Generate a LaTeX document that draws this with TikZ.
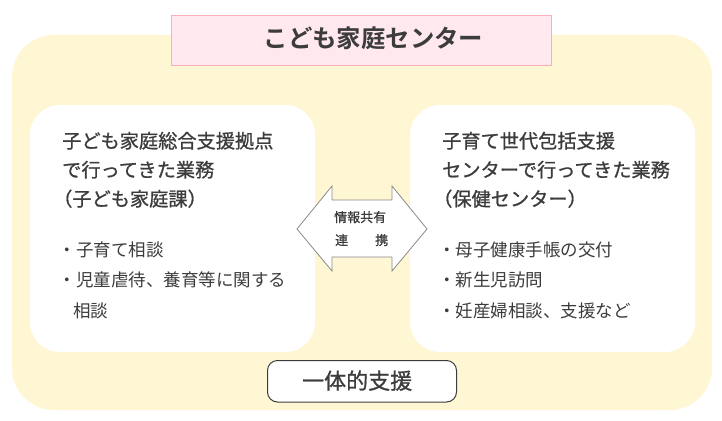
\documentclass[tikz,border=0pt]{standalone}
\usepackage{fontspec}
\setmainfont{Noto Sans CJK JP}[BoldFont={Noto Sans CJK JP Bold}]
\newfontfamily\medfont{Noto Sans CJK JP}[FakeBold=0.9]
\definecolor{ink}{HTML}{3C3C3C}
\definecolor{creamy}{HTML}{FFF6D4}
\definecolor{pinkfill}{HTML}{FFE8EE}
\definecolor{pinkline}{HTML}{F9AEB8}
\definecolor{arrowline}{HTML}{8A8A8A}
\tikzset{
  x=1pt,y=-1pt,
  txt/.style={anchor=base west,inner sep=0pt,text=ink},
  head/.style={txt,font=\fontsize{19.2}{19.2}\selectfont\medfont},
  item/.style={txt,font=\fontsize{17.5}{17.5}\selectfont},
  small/.style={txt,font=\fontsize{13}{13}\selectfont\medfont},
  panel/.style={fill=white,rounded corners=30pt},
}
\begin{document}
\begin{tikzpicture}
\useasboundingbox (0,0) rectangle (722,420);
\fill[white] (0,0) rectangle (722,420);
\fill[creamy,rounded corners=42pt] (12,35) rectangle (712,410);
\node[draw=pinkline,fill=pinkfill,line width=1pt,minimum width=380pt,minimum height=50pt,inner sep=0pt,anchor=north west] (title) at (171,15) {};
\node[txt,font=\fontsize{24.4}{24.4}\selectfont\bfseries] (titletext) at (263.5,47.5) {こども家庭センター};
\fill[panel] (30,105) rectangle (315,352);
\fill[panel] (410,105) rectangle (695,352);
\node[head] (l1) at (62,148) {子ども家庭総合支援拠点};
\node[head] (l2) at (62,177) {で行ってきた業務};
\node[head] (l3) at (53,206) {（子ども家庭課）};
\node[item] (l4) at (58.5,256) {・子育て相談};
\node[item] (l5) at (58.5,286) {・児童虐待、養育等に関する};
\node[item] (l6) at (73,317) {相談};
\node[head] (r1) at (442,148) {子育て世代包括支援};
\node[head] (r2) at (442,177) {センターで行ってきた業務};
\node[head] (r3) at (433,206) {（保健センター）};
\node[item] (r4) at (438,256) {・母子健康手帳の交付};
\node[item] (r5) at (438,286) {・新生児訪問};
\node[item] (r6) at (438,317) {・妊産婦相談、支援など};
\draw[draw=arrowline,fill=white,line width=.8pt,line join=miter] (297,229) -- (332,186) -- (332,200) -- (392,200) -- (392,186) -- (427,229) -- (392,271) -- (392,257) -- (332,257) -- (332,271) -- cycle;
\node[small] (a1) at (334,222) {情報共有};
\node[small] (a2) at (335,245) {連};
\node[small] (a3) at (375,245) {携};
\node[draw=ink,fill=white,line width=1pt,rounded corners=10pt,minimum width=189pt,minimum height=41.5pt,inner sep=0pt,anchor=north west] (sup) at (267,360) {};
\node[txt,font=\fontsize{22}{22}\selectfont\medfont] (suptext) at (302,389) {一体的支援};
\end{tikzpicture}
\end{document}
